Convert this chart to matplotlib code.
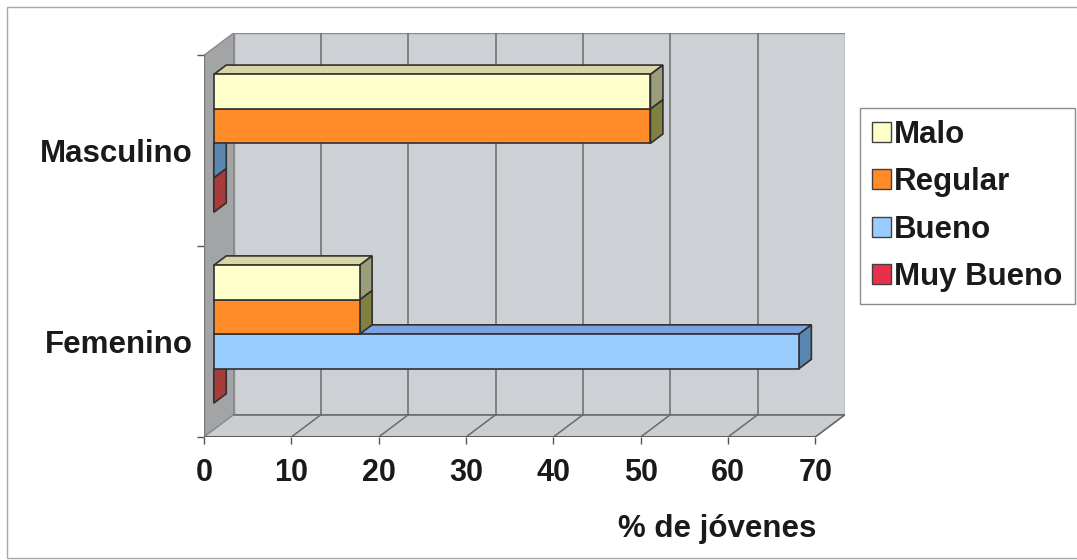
import matplotlib.pyplot as plt
from matplotlib.patches import Polygon, Rectangle, Patch

# Calificación por sexo (% de jóvenes)
categorias = ['Femenino', 'Masculino']
series = ['Malo', 'Regular', 'Bueno', 'Muy Bueno']
malo = [16.7, 50]
regular = [16.7, 50]
bueno = [67, 0]
muy_bueno = [0, 0]
valores = [malo, regular, bueno, muy_bueno]
ticks_x = [0, 10, 20, 30, 40, 50, 60, 70]

# colores por serie: cara frontal, cara superior, cara lateral
frente = ['#FFFFCC', '#FF8C28', '#99CCFF', '#E8304A']
arriba = ['#D9D6A6', '#C9A46A', '#7BA3E0', '#B04050']
lado = ['#9A9E7A', '#80813F', '#5A86B0', '#A83C3C']

plt.rcParams['font.family'] = ['Liberation Sans', 'DejaVu Sans']
plt.rcParams['font.weight'] = 'bold'
TXT = '#1A1A1A'
FS = 22.5

fig = plt.figure(figsize=(10.77, 5.6), dpi=100)
ax = fig.add_axes([204 / 1077, 123 / 560, 641 / 1077, 404 / 560])

XMAX = 70
DX, DY = 3.4, 0.117        # profundidad del "3D"
F0, F1 = 0.33, 0.75        # posición de las barras dentro de la profundidad
BAR_H = 0.1806
ax.set_xlim(0, XMAX + DX)
ax.set_ylim(-0.5, 1.5 + DY)

# paredes y suelo
ax.add_patch(Polygon([(DX, -0.5 + DY), (XMAX + DX, -0.5 + DY), (XMAX + DX, 1.5 + DY), (DX, 1.5 + DY)],
                     closed=True, fc='#CDD1D5', ec='#8A8A8A', lw=1, zorder=1))
ax.add_patch(Polygon([(0, -0.5), (DX, -0.5 + DY), (DX, 1.5 + DY), (0, 1.5)],
                     closed=True, fc='#A2A4A6', ec='#8A8A8A', lw=1, zorder=1))
ax.add_patch(Polygon([(0, -0.5), (XMAX, -0.5), (XMAX + DX, -0.5 + DY), (DX, -0.5 + DY)],
                     closed=True, fc='#CBCED1', ec='#8A8A8A', lw=1, zorder=1))

# líneas de división en la pared del fondo y en el suelo
for v in ticks_x[1:]:
    if v < XMAX:
        ax.plot([v + DX, v + DX], [-0.5 + DY, 1.5 + DY], color='#6A6A6A', lw=1.1, zorder=2)
    ax.plot([v, v + DX], [-0.5, -0.5 + DY], color='#6A6A6A', lw=1.1, zorder=2)
ax.plot([DX, XMAX + DX], [-0.5 + DY, -0.5 + DY], color='#6A6A6A', lw=1.1, zorder=2)
ax.plot([0, XMAX], [-0.5, -0.5], color='#555555', lw=1.3, zorder=2)
ax.plot([0, 0], [-0.5, 1.5], color='#777777', lw=1.0, zorder=2)

# barras con caras frontal, superior y lateral
x0 = F0 * DX
ddx, ddy = (F1 - F0) * DX, (F1 - F0) * DY
z = 3
for c in range(len(categorias)):
    centro = c + F0 * DY
    for s in reversed(range(len(series))):
        v = valores[s][c]
        y0 = centro + (1 - s) * BAR_H
        y1 = y0 + BAR_H
        ax.add_patch(Polygon([(x0, y1), (x0 + v, y1), (x0 + v + ddx, y1 + ddy), (x0 + ddx, y1 + ddy)],
                             closed=True, fc=arriba[s], ec='#303030', lw=1.2, zorder=z))
        ax.add_patch(Polygon([(x0 + v, y0), (x0 + v + ddx, y0 + ddy), (x0 + v + ddx, y1 + ddy), (x0 + v, y1)],
                             closed=True, fc=lado[s], ec='#303030', lw=1.2, zorder=z))
        if v > 0:
            ax.add_patch(Rectangle((x0, y0), v, BAR_H, fc=frente[s], ec='#303030', lw=1.2, zorder=z))
        z += 1

for sp in ax.spines.values():
    sp.set_visible(False)

ax.set_xticks(ticks_x)
ax.set_xticklabels([str(t) for t in ticks_x], fontsize=FS - 0.5, fontweight='bold', color=TXT)
ax.tick_params(axis='x', length=5, width=1, color='#555555', pad=10)
ax.set_yticks([0, 1])
ax.set_yticklabels(categorias, fontsize=FS, fontweight='bold', color=TXT)
ax.tick_params(axis='y', which='major', length=0, pad=8)
ax.set_yticks([-0.5, 0.5, 1.5], minor=True)
ax.tick_params(axis='y', which='minor', length=5, width=1, color='#555555')

fig.text(717 / 1077, 1 - 529 / 560, '% de jóvenes', ha='center', va='center',
         fontsize=FS, fontweight='bold', color=TXT)

handles = [Patch(fc=frente[i], ec='#404040', lw=1) for i in range(len(series))]
leg = fig.legend(handles, series, loc='upper left', bbox_to_anchor=(860 / 1077, 1 - 108 / 560),
                 bbox_transform=fig.transFigure, fontsize=FS, frameon=True, fancybox=False,
                 handlelength=0.6, handleheight=0.6, handletextpad=0.12, labelspacing=0.56,
                 borderpad=0.38, borderaxespad=0)
leg.get_frame().set_edgecolor('#707070')
leg.get_frame().set_linewidth(1)
for t in leg.get_texts():
    t.set_color(TXT)

# marco exterior
fig.add_artist(Rectangle((7 / 1077, 2 / 560), 1.2, 551 / 560, transform=fig.transFigure,
                         fill=False, ec='#A8A8A8', lw=1))

fig.savefig('out.png', dpi=100)
